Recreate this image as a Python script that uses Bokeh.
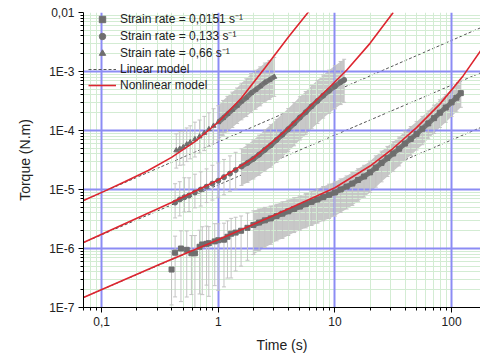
from bokeh.plotting import figure
from bokeh.models import (ColumnDataSource, Range1d, FixedTicker, CustomJSTickFormatter,
                          Whisker, TeeHead, Legend, LegendItem, Grid)
from bokeh.embed import file_html
from bokeh.resources import INLINE

# ---------------- data ----------------
# strain rate 0.0151 1/s (lowest curve, squares)
t_lo = [0.398, 0.427, 0.479, 0.537, 0.589, 0.631, 0.692, 0.73, 0.794, 0.83, 0.933, 1.0,
        1.12, 1.2, 1.29, 1.41, 1.57, 1.78, 2.0, 2.24, 2.51, 2.82, 3.16, 3.55, 3.98, 4.47,
        5.01, 5.62, 6.31, 7.08, 7.94, 8.91, 10.0, 11.2, 12.6, 14.1, 15.8, 17.8, 20.0, 22.4,
        25.1, 28.2, 31.6, 35.5, 39.8, 44.7, 50.1, 56.2, 63.1, 70.8, 79.4, 89.1, 100.0, 110.0, 120.0]
T_lo = [4.4e-7, 8.5e-7, 1.0e-6, 9.5e-7, 8.3e-7, 8.3e-7, 1.07e-6, 1.17e-6, 1.2e-6, 1.23e-6, 1.32e-6, 1.38e-6,
        1.41e-6, 1.58e-6, 1.78e-6, 1.86e-6, 2.0e-6, 2.24e-6, 2.5e-6, 2.75e-6, 3.0e-6, 3.24e-6, 3.55e-6, 3.9e-6,
        4.27e-6, 4.68e-6, 5.13e-6, 5.62e-6, 6.17e-6, 6.76e-6, 7.41e-6, 8.13e-6, 8.9e-6, 1.0e-5, 1.12e-5, 1.26e-5,
        1.45e-5, 1.66e-5, 1.95e-5, 2.34e-5, 2.82e-5, 3.39e-5, 4.07e-5, 4.9e-5, 6.0e-5, 7.2e-5, 8.7e-5, 1.07e-4,
        1.32e-4, 1.62e-4, 2.0e-4, 2.45e-4, 3.0e-4, 3.6e-4, 4.3e-4]
# error bar extent in decades (above / below the point)
up_lo = [0.30, 0.28, 0.30, 0.32, 0.30, 0.30, 0.28, 0.30, 0.30, 0.28, 0.30, 0.28,
         0.28, 0.27, 0.26, 0.26, 0.25, 0.25, 0.24, 0.23, 0.22, 0.21, 0.20, 0.20, 0.19, 0.19,
         0.18, 0.18, 0.18, 0.18, 0.18, 0.18, 0.18, 0.18, 0.18, 0.19, 0.19, 0.19, 0.19, 0.20,
         0.20, 0.20, 0.20, 0.20, 0.21, 0.21, 0.21, 0.21, 0.21, 0.22, 0.22, 0.22, 0.22, 0.22, 0.22]
dn_lo = [0.60, 0.75, 0.90, 0.80, 0.70, 0.95, 0.80, 0.85, 0.70, 0.90, 0.75, 0.85,
         0.80, 0.70, 0.75, 0.65, 0.60, 0.55, 0.50, 0.48, 0.46, 0.44, 0.42, 0.42, 0.41, 0.40,
         0.40, 0.40, 0.40, 0.40, 0.40, 0.40, 0.40, 0.39, 0.38, 0.37, 0.36, 0.35, 0.34, 0.33,
         0.32, 0.31, 0.30, 0.29, 0.28, 0.28, 0.27, 0.27, 0.26, 0.26, 0.25, 0.25, 0.24, 0.24, 0.24]

# strain rate 0.133 1/s (middle curve, circles)
t_mid = [0.427, 0.468, 0.513, 0.562, 0.631, 0.708, 0.794, 0.891, 1.0, 1.12, 1.26, 1.41, 1.58,
         1.78, 2.0, 2.24, 2.51, 2.82, 3.16, 3.55, 3.98, 4.47, 5.01, 5.62, 6.31, 7.08, 7.94,
         8.91, 10.0, 11.2, 12.0]
T_mid = [6.0e-6, 6.8e-6, 7.4e-6, 7.9e-6, 8.9e-6, 1.0e-5, 1.12e-5, 1.26e-5, 1.41e-5, 1.62e-5, 1.86e-5,
         2.14e-5, 2.45e-5, 2.82e-5, 3.3e-5, 3.9e-5, 4.7e-5, 5.6e-5, 6.9e-5, 8.5e-5, 1.05e-4, 1.32e-4,
         1.66e-4, 2.04e-4, 2.57e-4, 3.16e-4, 3.9e-4, 4.7e-4, 5.6e-4, 6.6e-4, 7.2e-4]
up_mid = [0.32, 0.30, 0.33, 0.30, 0.31, 0.30, 0.30, 0.31, 0.30, 0.30, 0.30, 0.30, 0.30,
          0.31, 0.32, 0.33, 0.34, 0.35, 0.35, 0.35, 0.35, 0.35, 0.35, 0.35, 0.35, 0.35, 0.35,
          0.35, 0.35, 0.35, 0.35]
dn_mid = [0.26, 0.28, 0.25, 0.27, 0.26, 0.28, 0.27, 0.28, 0.28, 0.30, 0.30, 0.32, 0.32,
          0.33, 0.34, 0.35, 0.36, 0.37, 0.38, 0.38, 0.38, 0.38, 0.38, 0.38, 0.38, 0.38, 0.38,
          0.38, 0.38, 0.38, 0.38]

# strain rate 0.66 1/s (top curve, triangles)
t_hi = [0.437, 0.468, 0.501, 0.537, 0.575, 0.631, 0.692, 0.759, 0.832, 0.912, 1.0, 1.10,
        1.20, 1.32, 1.45, 1.58, 1.74, 1.91, 2.09, 2.29, 2.51, 2.75, 3.02]
T_hi = [4.6e-5, 4.9e-5, 5.2e-5, 5.8e-5, 6.3e-5, 7.1e-5, 7.9e-5, 9.1e-5, 1.05e-4, 1.2e-4, 1.38e-4,
        1.62e-4, 1.9e-4, 2.24e-4, 2.63e-4, 3.1e-4, 3.6e-4, 4.3e-4, 4.9e-4, 5.6e-4, 6.5e-4, 7.2e-4, 8.1e-4]
up_hi = [0.28, 0.29, 0.27, 0.28, 0.28, 0.29, 0.28, 0.28, 0.28, 0.29, 0.28, 0.30,
         0.30, 0.30, 0.30, 0.31, 0.32, 0.33, 0.33, 0.33, 0.33, 0.33, 0.33]
dn_hi = [0.30, 0.28, 0.30, 0.29, 0.28, 0.30, 0.28, 0.30, 0.29, 0.30, 0.30, 0.30,
         0.30, 0.30, 0.30, 0.31, 0.32, 0.33, 0.33, 0.33, 0.33, 0.33, 0.33]

# nonlinear model curves (red)
tm_lo = [0.07, 0.316, 1.0, 3.16, 10.0, 20.0, 31.6, 50.1, 79.4, 126.0, 179.0]
Tm_lo = [1.48e-7, 5.4e-7, 1.41e-6, 3.8e-6, 1.07e-5, 2.5e-5, 5.0e-5, 1.12e-4, 2.8e-4, 8.5e-4, 2.3e-3]
tm_mid = [0.07, 0.158, 0.398, 1.0, 2.0, 3.68, 6.31, 12.6, 20.0, 31.6]
Tm_mid = [1.26e-6, 2.63e-6, 6.0e-6, 1.45e-5, 3.4e-5, 9.5e-5, 2.7e-4, 1.05e-3, 3.0e-3, 1.0e-2]
tm_hi = [0.07, 0.105, 0.158, 0.251, 0.398, 0.631, 1.0, 1.58, 2.51, 3.98, 6.0]
Tm_hi = [6.5e-6, 9.3e-6, 1.35e-5, 2.1e-5, 3.5e-5, 6.5e-5, 1.38e-4, 3.55e-4, 1.15e-3, 3.8e-3, 1.05e-2]

# linear model lines (dashed)
tl = [0.07, 177.0]
Tl_lo = [1.48e-7, 1.12e-4]
Tl_mid = [1.26e-6, 9.5e-4]
Tl_hi = [6.5e-6, 5.5e-3]

# index where the points become dense (drawn as a continuous band)
dense_lo, dense_mid, dense_hi = 18, 12, 10

labels = ["Strain rate = 0,0151 s\u207b\u00b9", "Strain rate = 0,133 s\u207b\u00b9",
          "Strain rate = 0,66 s\u207b\u00b9", "Linear model", "Nonlinear model"]

x_ticks = [0.1, 1, 10, 100]
x_tick_labels = ["0,1", "1", "10", "100"]
y_ticks = [1e-7, 1e-6, 1e-5, 1e-4, 1e-3, 1e-2]
y_tick_labels = ["1E-7", "1E-6", "1E-5", "1E-4", "1E-3", "0,01"]

# ---------------- figure ----------------
FONT = "Liberation Sans"
p = figure(width=480, height=356, x_axis_type="log", y_axis_type="log",
           x_range=Range1d(0.07, 177), y_range=Range1d(1e-7, 1e-2),
           output_backend="svg", toolbar_location=None,
           min_border_left=83, min_border_right=0, min_border_top=12, min_border_bottom=49)
p.outline_line_color = None
p.background_fill_color = "white"

minor_x = [m * 10.0 ** k for k in range(-2, 3) for m in range(2, 10)]
minor_y = [m * 10.0 ** k for k in range(-8, -1) for m in range(2, 10)]
xt = FixedTicker(ticks=x_ticks, minor_ticks=minor_x)
yt = FixedTicker(ticks=y_ticks, minor_ticks=minor_y)
p.xaxis.ticker = xt
p.yaxis.ticker = yt

fmt_code = """
const i = tvals.findIndex(v => Math.abs(Math.log10(v) - Math.log10(tick)) < 1e-6);
return i >= 0 ? tlabels[i] : "";
"""
p.xaxis.formatter = CustomJSTickFormatter(args=dict(tvals=x_ticks, tlabels=x_tick_labels), code=fmt_code)
p.yaxis.formatter = CustomJSTickFormatter(args=dict(tvals=y_ticks, tlabels=y_tick_labels), code=fmt_code)

# default grids: minor lines only
p.xgrid.ticker = xt
p.ygrid.ticker = yt
for g in (p.xgrid, p.ygrid):
    g.grid_line_color = None
    g.minor_grid_line_color = "#d3ecd3"
    g.minor_grid_line_width = 1
# major blue lines drawn after all minor lines
for dim, tk in ((0, xt), (1, yt)):
    gm = Grid(dimension=dim, ticker=tk, grid_line_color="#8c8cf4", grid_line_width=2,
              minor_grid_line_color=None)
    p.add_layout(gm)

for ax in (p.xaxis, p.yaxis):
    ax.axis_line_color = "black"
    ax.axis_line_width = 1
    ax.major_tick_line_color = "black"
    ax.minor_tick_line_color = "black"
    ax.major_tick_in = 0
    ax.major_tick_out = 5
    ax.minor_tick_in = 0
    ax.minor_tick_out = 3
    ax.major_label_text_font = FONT
    ax.major_label_text_font_size = "12px"
    ax.major_label_text_color = "#222222"
    ax.axis_label_text_font = FONT
    ax.axis_label_text_font_size = "14px"
    ax.axis_label_text_font_style = "normal"
    ax.axis_label_text_color = "#222222"
    ax.major_label_standoff = 4

p.xaxis.axis_label = "Time (s)"
p.yaxis.axis_label = "Torque (N.m)"
p.xaxis.axis_label_standoff = 8
p.yaxis.axis_label_standoff = 13

# dashed linear-model lines (behind the data)
dash_renderers = []
for Tl in (Tl_lo, Tl_mid, Tl_hi):
    r = p.line(tl, Tl, line_color="#555555", line_width=1, line_dash="3 2", level="underlay")
    dash_renderers.append(r)

# data with error bars
marker_renderers = []
for t, T, up, dn, k, mk in ((t_lo, T_lo, up_lo, dn_lo, dense_lo, "square"),
                            (t_mid, T_mid, up_mid, dn_mid, dense_mid, "circle"),
                            (t_hi, T_hi, up_hi, dn_hi, dense_hi, "triangle")):
    hi = [v * 10 ** u for v, u in zip(T, up)]
    lo = [v / 10 ** d for v, d in zip(T, dn)]
    src = ColumnDataSource(dict(t=t, T=T, hi=hi, lo=lo))
    band = ColumnDataSource(dict(t=t[k:], hi=hi[k:], lo=lo[k:], T=T[k:]))
    p.varea(x="t", y1="lo", y2="hi", source=band, fill_color="#c8c8c8", level="underlay")
    w = Whisker(source=src, base="t", upper="hi", lower="lo", dimension="height",
                line_color="#c4c4c4", line_width=1, level="underlay",
                upper_head=TeeHead(size=4, line_color="#c4c4c4", line_width=1),
                lower_head=TeeHead(size=4, line_color="#c4c4c4", line_width=1))
    p.add_layout(w)
    p.line(x="t", y="T", source=band, line_color="#777777", line_width=5)
    r = p.scatter(x="t", y="T", source=src, marker=mk, size=5,
                  fill_color="#6e6e6e", line_color="#6e6e6e")
    marker_renderers.append(r)

# nonlinear model (red)
red_renderers = []
for tm, Tm in ((tm_lo, Tm_lo), (tm_mid, Tm_mid), (tm_hi, Tm_hi)):
    r = p.line(tm, Tm, line_color="#dd2630", line_width=1.6)
    red_renderers.append(r)

items = [LegendItem(label=labels[0], renderers=[marker_renderers[0]]),
         LegendItem(label=labels[1], renderers=[marker_renderers[1]]),
         LegendItem(label=labels[2], renderers=[marker_renderers[2]]),
         LegendItem(label=labels[3], renderers=[dash_renderers[0]]),
         LegendItem(label=labels[4], renderers=[red_renderers[0]])]
leg = Legend(items=items, location=(5, 214), border_line_color=None,
             background_fill_alpha=0, padding=0, margin=0, spacing=0,
             label_height=16, glyph_height=16, glyph_width=28, label_standoff=4,
             label_text_font=FONT, label_text_font_size="12px", label_text_color="#222222")
p.add_layout(leg)

open("out.html", "w").write(file_html(p, INLINE))
